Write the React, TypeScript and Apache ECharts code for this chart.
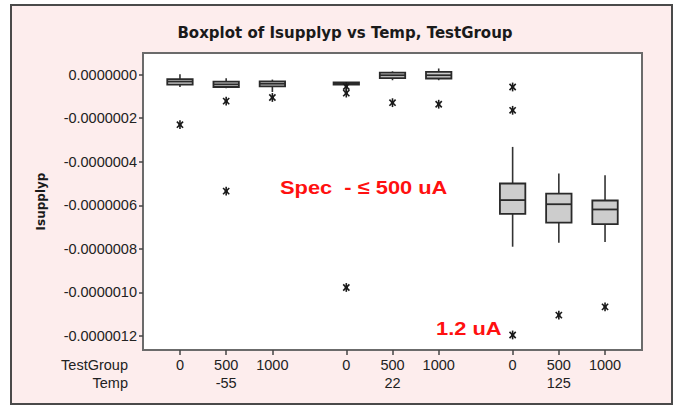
import React, { useEffect, useRef } from "react";
import * as echarts from "echarts";

// x positions of the nine Temp/TestGroup combinations (groups separated by a gap)
const positions = [0, 1, 2, 3.6, 4.6, 5.6, 7.2, 8.2, 9.2];
const testGroups = ["0", "500", "1000", "0", "500", "1000", "0", "500", "1000"];
const tempPositions = [1, 4.6, 8.2];
const temps = ["-55", "22", "125"];

// box statistics, in µA (1e-6 A)
const whiskerLow = [-0.057, -0.063, -0.08, -0.048, -0.026, -0.026, -0.79, -0.772, -0.768];
const q1 = [-0.046, -0.057, -0.054, -0.046, -0.016, -0.018, -0.639, -0.679, -0.686];
const median = [-0.032, -0.045, -0.042, -0.04, -0.003, -0.003, -0.576, -0.595, -0.619];
const q3 = [-0.021, -0.032, -0.031, -0.036, 0.009, 0.012, -0.5, -0.546, -0.578];
const whiskerHigh = [0.001, -0.017, -0.023, -0.034, 0.015, 0.028, -0.332, -0.454, -0.462];

// outliers: [index of box, value in µA]
const outliers: [number, number][] = [
  [0, -0.23],
  [1, -0.122],
  [1, -0.535],
  [2, -0.105],
  [3, -0.055],
  [3, -0.085],
  [3, -0.977],
  [4, -0.129],
  [5, -0.136],
  [6, -0.057],
  [6, -0.164],
  [6, -1.195],
  [7, -1.104],
  [8, -1.066],
];

const yTicks = [0, -0.2, -0.4, -0.6, -0.8, -1.0, -1.2];

export default function App() {
  const ref = useRef<HTMLDivElement>(null);
  useEffect(() => {
    if (!ref.current) return;
    const chart = echarts.init(ref.current, undefined, { renderer: "svg" });
    const boxData = positions.map((p, i) => [p, whiskerLow[i], q1[i], median[i], q3[i], whiskerHigh[i]]);
    const outData = outliers.map(([i, v]) => [positions[i], v]);
    const ink = "#222222";
    const labelFont = "'Liberation Sans', Arial, sans-serif";
    const labelSize = 14.5;
    const nearest = (arr: number[], v: number) => {
      let best = 0;
      arr.forEach((p, i) => {
        if (Math.abs(p - v) < Math.abs(arr[best] - v)) best = i;
      });
      return best;
    };
    chart.setOption({
      animation: false,
      backgroundColor: "#ffffff",
      graphic: [
        {
          type: "rect",
          z: -10,
          shape: { x: 11, y: 5, width: 661, height: 399 },
          style: { fill: "#fdeded", stroke: "#4a4a4a", lineWidth: 2 },
        },
        {
          type: "text",
          x: 128,
          y: 365,
          style: {
            text: "TestGroup",
            fill: ink,
            font: `${labelSize}px ${labelFont}`,
            align: "right",
            verticalAlign: "middle",
          },
        },
        {
          type: "text",
          x: 128,
          y: 383,
          style: {
            text: "Temp",
            fill: ink,
            font: `${labelSize}px ${labelFont}`,
            align: "right",
            verticalAlign: "middle",
          },
        },
        {
          type: "text",
          x: 280,
          y: 187,
          scaleX: 1.15,
          style: {
            text: "Spec  - ≤ 500 uA",
            fill: "#ff1010",
            font: `bold 19px ${labelFont}`,
            verticalAlign: "middle",
          },
        },
        {
          type: "text",
          x: 436,
          y: 328,
          scaleX: 1.15,
          style: {
            text: "1.2 uA",
            fill: "#ff1010",
            font: `bold 19px ${labelFont}`,
            verticalAlign: "middle",
          },
        },
      ],
      title: {
        text: "Boxplot of Isupplyp vs Temp, TestGroup",
        left: 340,
        textAlign: "center",
        top: 20,
        textStyle: {
          fontFamily: "'DejaVu Sans', sans-serif",
          fontWeight: "bold",
          fontSize: 15,
          color: "#1a1a1a",
        },
      },
      grid: {
        left: 143,
        top: 53,
        width: 499,
        height: 297,
        show: true,
        backgroundColor: "#ffffff",
        borderColor: "#6b6b6b",
        borderWidth: 2,
      },
      xAxis: [
        {
          type: "value",
          min: -0.8,
          max: 10,
          position: "bottom",
          axisLine: { show: false, onZero: false },
          splitLine: { show: false },
          axisTick: {
            show: true,
            customValues: positions,
            length: 5,
            lineStyle: { color: "#444", width: 1.5 },
          },
          axisLabel: {
            customValues: positions,
            margin: 7,
            fontFamily: labelFont,
            fontSize: labelSize,
            color: ink,
            formatter: (v: number) => testGroups[nearest(positions, v)],
          },
        },
        {
          type: "value",
          min: -0.8,
          max: 10,
          position: "bottom",
          offset: 18,
          axisLine: { show: false, onZero: false },
          splitLine: { show: false },
          axisTick: { show: false },
          axisLabel: {
            customValues: tempPositions,
            margin: 7,
            fontFamily: labelFont,
            fontSize: labelSize,
            color: ink,
            formatter: (v: number) => temps[nearest(tempPositions, v)],
          },
        },
      ],
      yAxis: {
        type: "value",
        min: -1.264,
        max: 0.099,
        name: "Isupplyp",
        nameLocation: "middle",
        nameGap: 96,
        nameRotate: 90,
        nameTextStyle: {
          fontFamily: "'DejaVu Sans', sans-serif",
          fontWeight: "bold",
          fontSize: 12,
          color: "#1a1a1a",
        },
        axisLine: { show: false, onZero: false },
        splitLine: { show: false },
        axisTick: {
          show: true,
          customValues: yTicks,
          length: 4,
          lineStyle: { color: "#444", width: 1.5 },
        },
        axisLabel: {
          customValues: yTicks,
          margin: 6,
          fontFamily: labelFont,
          fontSize: labelSize,
          color: ink,
          formatter: (v: number) => (v * 1e-6).toFixed(7),
        },
      },
      series: [
        {
          type: "custom",
          xAxisIndex: 0,
          data: boxData,
          encode: { x: 0, y: [1, 2, 3, 4, 5] },
          renderItem: (params: any, api: any) => {
            const x = api.value(0);
            const lo = api.coord([x, api.value(1)]);
            const b1 = api.coord([x, api.value(2)]);
            const md = api.coord([x, api.value(3)]);
            const b3 = api.coord([x, api.value(4)]);
            const hi = api.coord([x, api.value(5)]);
            const w = api.size([0.55, 0])[0];
            const cx = lo[0];
            const lineStyle = { stroke: "#333", lineWidth: 1.6 };
            return {
              type: "group",
              children: [
                { type: "line", shape: { x1: cx, y1: hi[1], x2: cx, y2: b3[1] }, style: lineStyle },
                { type: "line", shape: { x1: cx, y1: b1[1], x2: cx, y2: lo[1] }, style: lineStyle },
                {
                  type: "rect",
                  shape: { x: cx - w / 2, y: b3[1], width: w, height: b1[1] - b3[1] },
                  style: { fill: "#cdcdcd", stroke: "#2a2a2a", lineWidth: 1.8 },
                },
                {
                  type: "line",
                  shape: { x1: cx - w / 2, y1: md[1], x2: cx + w / 2, y2: md[1] },
                  style: { stroke: "#2a2a2a", lineWidth: 1.8 },
                },
              ],
            };
          },
        },
        {
          type: "custom",
          xAxisIndex: 0,
          data: outData,
          encode: { x: 0, y: 1 },
          z: 3,
          renderItem: (params: any, api: any) => {
            const c = api.coord([api.value(0), api.value(1)]);
            const r = 4.4;
            const st = { stroke: "#1a1a1a", lineWidth: 1.6 };
            const arms: any[] = [90, 45, -45].map((deg) => {
              const a = (deg * Math.PI) / 180;
              const dx = Math.cos(a) * r;
              const dy = Math.sin(a) * r;
              return {
                type: "line",
                shape: { x1: c[0] - dx, y1: c[1] - dy, x2: c[0] + dx, y2: c[1] + dy },
                style: st,
              };
            });
            arms.push({
              type: "circle",
              shape: { cx: c[0], cy: c[1], r: 1.7 },
              style: { fill: "#1a1a1a" },
            });
            return { type: "group", children: arms };
          },
        },
      ],
    });
    return () => chart.dispose();
  }, []);
  return (
    <div
      ref={ref}
      style={{ position: "fixed", left: 0, top: 0, width: 677, height: 407 }}
    />
  );
}
